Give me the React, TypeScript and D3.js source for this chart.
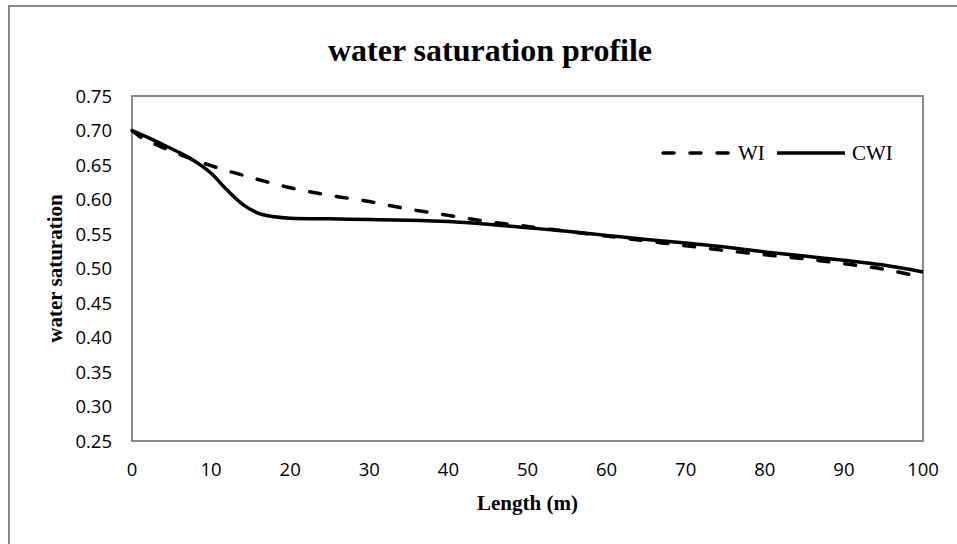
import React from "react";
import * as d3 from "d3";

const xTicks = [0, 10, 20, 30, 40, 50, 60, 70, 80, 90, 100];
const yTicks = [0.25, 0.3, 0.35, 0.4, 0.45, 0.5, 0.55, 0.6, 0.65, 0.7, 0.75];

const wiX = [0, 1, 3, 5, 8, 10, 15, 20, 25, 30, 35, 40, 45, 50, 55, 60, 65, 70, 75, 80, 85, 90, 95, 100];
const wiY = [0.7, 0.691, 0.68, 0.67, 0.657, 0.649, 0.632, 0.617, 0.606, 0.597, 0.586, 0.577, 0.568, 0.561, 0.554, 0.547, 0.54, 0.533, 0.526, 0.52, 0.514, 0.507, 0.499, 0.487];

const cwiX = [0, 2, 4, 6, 8, 10, 12, 14, 16, 18, 20, 25, 30, 35, 40, 45, 50, 55, 60, 65, 70, 75, 80, 85, 90, 95, 100];
const cwiY = [0.7, 0.69, 0.679, 0.668, 0.655, 0.638, 0.614, 0.593, 0.58, 0.575, 0.573, 0.572, 0.571, 0.57, 0.568, 0.564, 0.559, 0.554, 0.548, 0.542, 0.537, 0.531, 0.524, 0.518, 0.512, 0.505, 0.495];

const W = 957;
const H = 544;
const L = 132, R = 923, T = 96, B = 441;

export default function App() {
  const x = d3.scaleLinear().domain([0, 100]).range([L, R]);
  const y = d3.scaleLinear().domain([0.25, 0.75]).range([B, T]);
  const line = d3
    .line<[number, number]>()
    .x((d) => x(d[0]))
    .y((d) => y(d[1]))
    .curve(d3.curveMonotoneX);
  const wi = line(wiX.map((v, i) => [v, wiY[i]] as [number, number])) || "";
  const cwi = line(cwiX.map((v, i) => [v, cwiY[i]] as [number, number])) || "";
  const serif = "'Liberation Serif', 'Times New Roman', serif";
  const sans = "'Open Sans', sans-serif";
  const legY = 153;
  return (
    <svg
      width={W}
      height={H}
      style={{ position: "absolute", left: 0, top: 0, background: "#fff" }}
    >
      <rect x={9} y={6} width={980} height={600} fill="#fff" stroke="#888" strokeWidth={2} />
      <text x={490} y={61} textAnchor="middle" fontFamily={serif} fontWeight="bold" fontSize={32}>
        water saturation profile
      </text>
      <rect x={L} y={T} width={R - L} height={B - T} fill="none" stroke="#898989" strokeWidth={2} />
      {yTicks.map((t) => (
        <text key={t} x={112} y={y(t) + 6.6} textAnchor="end" fontFamily={sans} fontSize={18.5} fill="#000">
          {t.toFixed(2)}
        </text>
      ))}
      {xTicks.map((t) => (
        <text key={t} x={x(t)} y={476} textAnchor="middle" fontFamily={sans} fontSize={18.5} fill="#000">
          {t}
        </text>
      ))}
      <text
        transform={`translate(62,${(T + B) / 2}) rotate(-90)`}
        textAnchor="middle"
        fontFamily={serif}
        fontWeight="bold"
        fontSize={21}
      >
        water saturation
      </text>
      <text x={527.5} y={510} textAnchor="middle" fontFamily={serif} fontWeight="bold" fontSize={21}>
        Length (m)
      </text>
      <path d={wi} fill="none" stroke="#000" strokeWidth={3.5} strokeDasharray="11,16" strokeLinecap="round" />
      <path d={cwi} fill="none" stroke="#000" strokeWidth={3.5} />
      <line x1={663} x2={731} y1={legY} y2={legY} stroke="#000" strokeWidth={3.5} strokeDasharray="11,16" strokeLinecap="round" />
      <text x={738} y={legY + 7} fontFamily={serif} fontSize={21}>WI</text>
      <line x1={777} x2={845} y1={legY} y2={legY} stroke="#000" strokeWidth={3.5} />
      <text x={852} y={legY + 7} fontFamily={serif} fontSize={21}>CWI</text>
    </svg>
  );
}
